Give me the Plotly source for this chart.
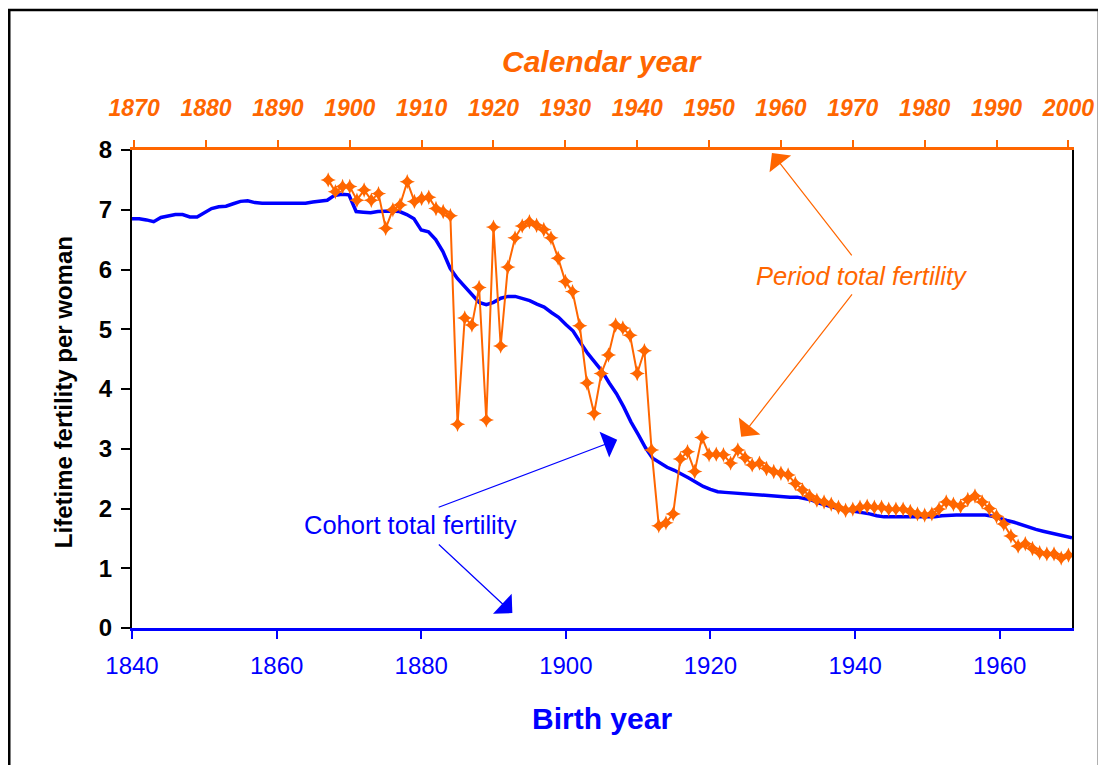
import plotly.graph_objects as go

# ---------------- data ----------------
cohort_year = list(range(1840, 1971))
cohort_tfr = [
    6.85, 6.85, 6.83, 6.80, 6.87, 6.90, 6.92, 6.92, 6.88, 6.88,   # 1840-49
    6.95, 7.02, 7.05, 7.06, 7.10, 7.14, 7.15, 7.12, 7.11, 7.11,   # 1850-59
    7.11, 7.11, 7.12, 7.12, 7.11, 7.13, 7.14, 7.16, 7.24, 7.26,   # 1860-69
    7.25, 6.97, 6.96, 6.95, 6.97, 6.98, 6.98, 6.97, 6.92, 6.85,   # 1870-79
    6.66, 6.63, 6.50, 6.30, 6.02, 5.85, 5.72, 5.57, 5.45, 5.41,   # 1880-89
    5.45, 5.52, 5.55, 5.55, 5.52, 5.48, 5.42, 5.37, 5.28, 5.20,   # 1890-99
    5.08, 4.97, 4.78, 4.60, 4.45, 4.30, 4.10, 3.92, 3.70, 3.45,   # 1900-09
    3.24, 3.02, 2.84, 2.76, 2.69, 2.64, 2.58, 2.51, 2.44, 2.37,   # 1910-19
    2.32, 2.28, 2.27, 2.26, 2.25, 2.24, 2.23, 2.23, 2.22, 2.21,   # 1920-29
    2.20, 2.19, 2.19, 2.17, 2.14, 2.09, 2.05, 2.02, 1.99, 1.97,   # 1930-39
    1.96, 1.94, 1.91, 1.88, 1.86, 1.86, 1.86, 1.86, 1.86, 1.86,   # 1940-49
    1.86, 1.86, 1.88, 1.89, 1.89, 1.89, 1.89, 1.89, 1.89, 1.87,   # 1950-59
    1.83, 1.80, 1.77, 1.73, 1.68, 1.65, 1.62, 1.59, 1.57, 1.54,   # 1960-69
    1.51,                                                         # 1970
]

period_year = list(range(1897, 2001))
period_tfr = [
    7.50, 7.30, 7.39,                                             # 1897-99
    7.39, 7.16, 7.33, 7.16, 7.27, 6.69, 7.00, 7.08, 7.47, 7.14,   # 1900-09
    7.19, 7.21, 7.02, 6.97, 6.90, 3.41, 5.19, 5.07, 5.70, 3.48,   # 1910-19
    6.71, 4.72, 6.04, 6.53, 6.73, 6.80, 6.74, 6.67, 6.53, 6.19,   # 1920-29
    5.80, 5.63, 5.06, 4.10, 3.59, 4.26, 4.57, 5.07, 5.02, 4.90,   # 1930-39
    4.26, 4.64, 2.98, 1.71, 1.76, 1.91, 2.83, 2.95, 2.62, 3.19,   # 1940-49
    2.90, 2.91, 2.90, 2.76, 2.98, 2.85, 2.73, 2.76, 2.67, 2.62,   # 1950-59
    2.59, 2.56, 2.42, 2.31, 2.21, 2.14, 2.11, 2.07, 2.02, 1.97,   # 1960-69
    1.99, 2.02, 2.04, 2.02, 2.02, 1.99, 1.99, 1.99, 1.95, 1.91,   # 1970-79
    1.89, 1.91, 1.99, 2.11, 2.07, 2.04, 2.15, 2.21, 2.11, 2.00,   # 1980-89
    1.87, 1.74, 1.54, 1.37, 1.41, 1.33, 1.26, 1.24, 1.24, 1.17,   # 1990-99
    1.22,                                                         # 2000
]

birth_ticks = [1840, 1860, 1880, 1900, 1920, 1940, 1960]
calendar_ticks = list(range(1870, 2001, 10))
y_ticks = [0, 1, 2, 3, 4, 5, 6, 7, 8]

BLUE = "#0000FF"
ORANGE = "#FF6600"
FONT = "Liberation Sans, Arial, sans-serif"

# the page adds an 8 px body margin; layout below is expressed in figure pixels
OFF = 8
W, H = 1106 - OFF, 765 - OFF
L, T = 132 - OFF, 150 - OFF
PW, PH = 942, 478
R = W - L - PW
B = H - T - PH


def px(xp):
    return (xp - OFF - L) / PW


def py(yp):
    return (T + PH - (yp - OFF)) / PH


fig = go.Figure()

fig.add_trace(go.Scatter(
    x=cohort_year, y=cohort_tfr, mode="lines",
    line=dict(color=BLUE, width=3.5),
    name="Cohort total fertility", xaxis="x", yaxis="y",
))
fig.add_trace(go.Scatter(
    x=period_year, y=period_tfr, mode="lines+markers",
    line=dict(color=ORANGE, width=2),
    marker=dict(symbol="star-diamond", size=11, color=ORANGE),
    name="Period total fertility", xaxis="x2", yaxis="y",
))

fig.update_layout(
    width=W, height=H,
    margin=dict(l=L, r=R, t=T, b=B),
    paper_bgcolor="white", plot_bgcolor="white",
    showlegend=False,
    font=dict(family=FONT),
    xaxis=dict(
        range=[1840, 1970], tickvals=birth_ticks,
        ticks="outside", ticklen=8, tickwidth=2, tickcolor=BLUE,
        showline=True, linecolor=BLUE, linewidth=2.5,
        showgrid=False, zeroline=False, ticklabelstandoff=6,
        tickfont=dict(family=FONT, size=24, color=BLUE),
    ),
    xaxis2=dict(
        overlaying="x", side="top", anchor="y",
        range=[1869.7, 2000.5], tickvals=calendar_ticks,
        ticks="outside", ticklen=7, tickwidth=2, tickcolor=ORANGE,
        showline=True, linecolor=ORANGE, linewidth=2.5,
        showgrid=False, zeroline=False, ticklabelstandoff=15,
        tickfont=dict(family=FONT, size=23, color=ORANGE, weight="bold", style="italic"),
    ),
    yaxis=dict(
        range=[0, 8], tickvals=y_ticks,
        ticks="outside", ticklen=9, tickwidth=2, tickcolor="black",
        showline=True, linecolor="black", linewidth=2, mirror=True,
        showgrid=False, zeroline=False, ticklabelstandoff=4,
        tickfont=dict(family=FONT, size=24, color="black", weight="bold"),
    ),
)

# axis titles
fig.add_annotation(text="Birth year", xref="paper", yref="paper",
                   x=0.5, y=py(718), xanchor="center", yanchor="middle",
                   showarrow=False,
                   font=dict(family=FONT, size=30, color=BLUE, weight="bold"))
fig.add_annotation(text="Calendar year", xref="paper", yref="paper",
                   x=0.5, y=py(62), xanchor="center", yanchor="middle",
                   showarrow=False,
                   font=dict(family=FONT, size=30, color=ORANGE, weight="bold", style="italic"))
fig.add_annotation(text="Lifetime fertility per woman", xref="paper", yref="paper",
                   x=px(63), y=py(392), xanchor="center", yanchor="middle",
                   textangle=-90, showarrow=False,
                   font=dict(family=FONT, size=24, color="black", weight="bold"))

# labels in the plot
fig.add_annotation(text="Period total fertility", xref="x", yref="y",
                   x=1941.0, y=5.89, showarrow=False,
                   font=dict(family=FONT, size=25.5, color=ORANGE, style="italic"))
fig.add_annotation(text="Cohort total fertility", xref="x", yref="y",
                   x=1878.5, y=1.72, showarrow=False,
                   font=dict(family=FONT, size=25.5, color=BLUE))

# arrows
arrows = [
    (1928.5, 7.95, 81, 104, ORANGE),
    (1924.25, 3.20, 112, -144, ORANGE),
    (1907.1, 3.15, -180, 68, BLUE),
    (1892.6, 0.25, -75, -70, BLUE),
]
for x, y, ax, ay, c in arrows:
    fig.add_annotation(text="", xref="x", yref="y", x=x, y=y, ax=ax, ay=ay,
                       showarrow=True, arrowhead=1, arrowsize=3.8, arrowwidth=1.2,
                       arrowcolor=c)

# outer frame
fig.add_shape(type="rect", xref="paper", yref="paper",
              x0=px(9), x1=px(1101),
              y0=py(800), y1=py(10),
              line=dict(color="black", width=2.5), layer="below")

fig.write_html("out.html")
